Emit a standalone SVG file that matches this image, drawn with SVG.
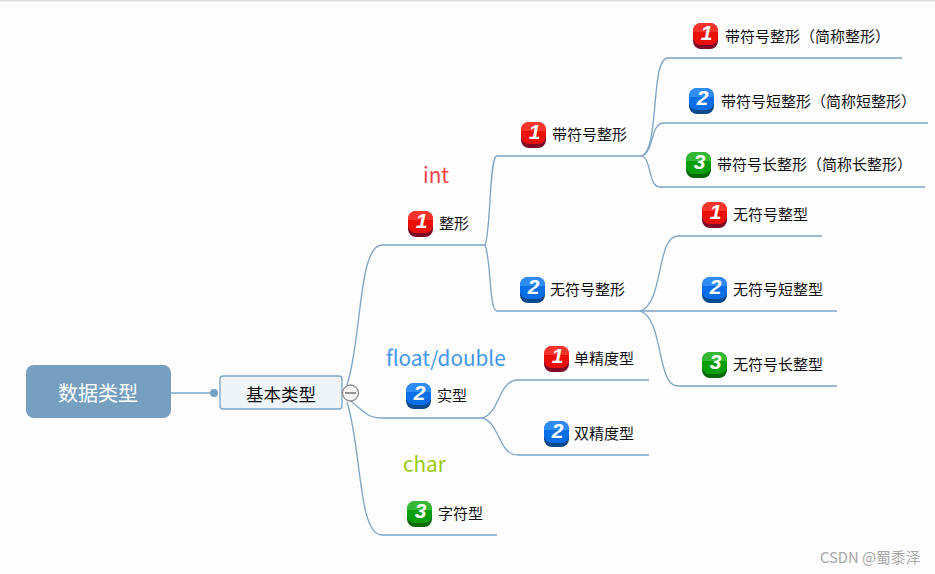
<svg xmlns="http://www.w3.org/2000/svg" width="935" height="574" viewBox="0 0 935 574">
<defs>
<style>
text{font-family:"Noto Sans CJK SC","Noto Sans",sans-serif}
.t{font-size:15px;fill:#111}
.n{font-size:21px;font-style:italic;font-weight:bold;fill:#fff;text-anchor:middle;font-family:"Liberation Sans","Noto Sans",sans-serif}
.c{fill:none;stroke:#7ba4c4;stroke-width:1.3}
.k{font-size:20.700px}
</style>
<g id="b-red"><rect x="0" y="3" width="25" height="23" rx="8" fill="#7e0a28"/><rect x="0" y="0" width="25" height="22" rx="8" fill="#e9100c"/><path d="M0 9V8a8 8 0 0 1 8-8H17a8 8 0 0 1 8 8V9Z" fill="#f7342c"/></g>
<g id="b-blue"><rect x="0" y="3" width="25" height="23" rx="8" fill="#0a4a8c"/><rect x="0" y="0" width="25" height="22" rx="8" fill="#0a6ee6"/><path d="M0 9V8a8 8 0 0 1 8-8H17a8 8 0 0 1 8 8V9Z" fill="#2f8cf5"/></g>
<g id="b-green"><rect x="0" y="3" width="25" height="23" rx="8" fill="#0a6a0a"/><rect x="0" y="0" width="25" height="22" rx="8" fill="#0a9e0a"/><path d="M0 9V8a8 8 0 0 1 8-8H17a8 8 0 0 1 8 8V9Z" fill="#35b835"/></g>
</defs>
<rect width="935" height="574" fill="#fdfdfe"/>
<rect width="935" height="1.500" fill="#dedede"/>
<g id="connectors">
<path class="c" d="M171 393H214"/>
<circle cx="214" cy="393" r="4" fill="#769fc0"/>
<path class="c" d="M347 385C362 340 358 245 382 245H485"/>
<path class="c" d="M346 398C360 406 364 418 382 418H482"/>
<path class="c" d="M347 402C362 450 358 535 382 535H497"/>
<path class="c" d="M485 245C491 232 489 156 497 156H642"/>
<path class="c" d="M485 245C491 258 489 311 497 311H837"/>
<path class="c" d="M642 156C660 148 650 58 668 58H902"/>
<path class="c" d="M642 156C655 150 650 123 664 123H928"/>
<path class="c" d="M642 156C652 160 648 187 660 187H925"/>
<path class="c" d="M640 311C664 304 656 236 678 236H822"/>
<path class="c" d="M640 311C664 318 656 386 678 386H837"/>
<path class="c" d="M482 418C500 414 498 380 518 380H649"/>
<path class="c" d="M482 418C500 422 498 455 518 455H649"/>
</g>
<g id="root"><rect x="26" y="365" width="145" height="53" rx="8" fill="#769fc0"/><text x="98" y="401" font-size="20" fill="#fff" text-anchor="middle">数据类型</text></g>
<g id="base"><rect x="220" y="376" width="122" height="33" rx="3" fill="#eff4f8" stroke="#7ba4c4" stroke-width="1.300"/><text x="281" y="401" font-size="17.500" fill="#111" text-anchor="middle">基本类型</text></g>
<g id="collapse"><circle cx="350.500" cy="393" r="8" fill="#f4f4f4" stroke="#8f8f8f" stroke-width="1.300"/><path d="M345 393H356" stroke="#777" stroke-width="1.500"/></g>
<g id="n-int"><use href="#b-red" x="408" y="211"/><text class="n" x="421.500" y="228">1</text><text class="t" x="439" y="229">整形</text></g>
<g id="n-real"><use href="#b-blue" x="406" y="383"/><text class="n" x="419.500" y="400">2</text><text class="t" x="437" y="401">实型</text></g>
<g id="n-char"><use href="#b-green" x="407" y="501"/><text class="n" x="420.500" y="518">3</text><text class="t" x="438" y="519">字符型</text></g>
<g id="n-signed"><use href="#b-red" x="521" y="122"/><text class="n" x="534.500" y="139">1</text><text class="t" x="552" y="140">带符号整形</text></g>
<g id="n-unsigned"><use href="#b-blue" x="520" y="277"/><text class="n" x="533.500" y="294">2</text><text class="t" x="550" y="295">无符号整形</text></g>
<g id="n-s1"><use href="#b-red" x="693" y="23"/><text class="n" x="706.500" y="40">1</text><text class="t" x="725" y="42">带符号整形（简称整形）</text></g>
<g id="n-s2"><use href="#b-blue" x="689" y="88"/><text class="n" x="702.500" y="105">2</text><text class="t" x="721" y="107">带符号短整形（简称短整形）</text></g>
<g id="n-s3"><use href="#b-green" x="686" y="152"/><text class="n" x="699.500" y="169">3</text><text class="t" x="717" y="170">带符号长整形（简称长整形）</text></g>
<g id="n-u1"><use href="#b-red" x="702" y="202"/><text class="n" x="715.500" y="219">1</text><text class="t" x="733" y="220">无符号整型</text></g>
<g id="n-u2"><use href="#b-blue" x="702" y="277"/><text class="n" x="715.500" y="294">2</text><text class="t" x="733" y="295">无符号短整型</text></g>
<g id="n-u3"><use href="#b-green" x="702" y="352"/><text class="n" x="715.500" y="369">3</text><text class="t" x="733" y="370">无符号长整型</text></g>
<g id="n-f1"><use href="#b-red" x="544" y="346"/><text class="n" x="557.500" y="363">1</text><text class="t" x="574" y="364">单精度型</text></g>
<g id="n-f2"><use href="#b-blue" x="544" y="421"/><text class="n" x="557.500" y="438">2</text><text class="t" x="574" y="439">双精度型</text></g>
<g id="labels">
<text class="k" x="423" y="183" fill="#f5424a">int</text>
<text class="k" x="386" y="366" fill="#3f97ec">float/double</text>
<text class="k" x="403" y="472" fill="#9ccb0e">char</text>
<text x="820" y="563" font-size="14.800" fill="#a8a8a8">CSDN @蜀黍泽</text>
</g>
</svg>
